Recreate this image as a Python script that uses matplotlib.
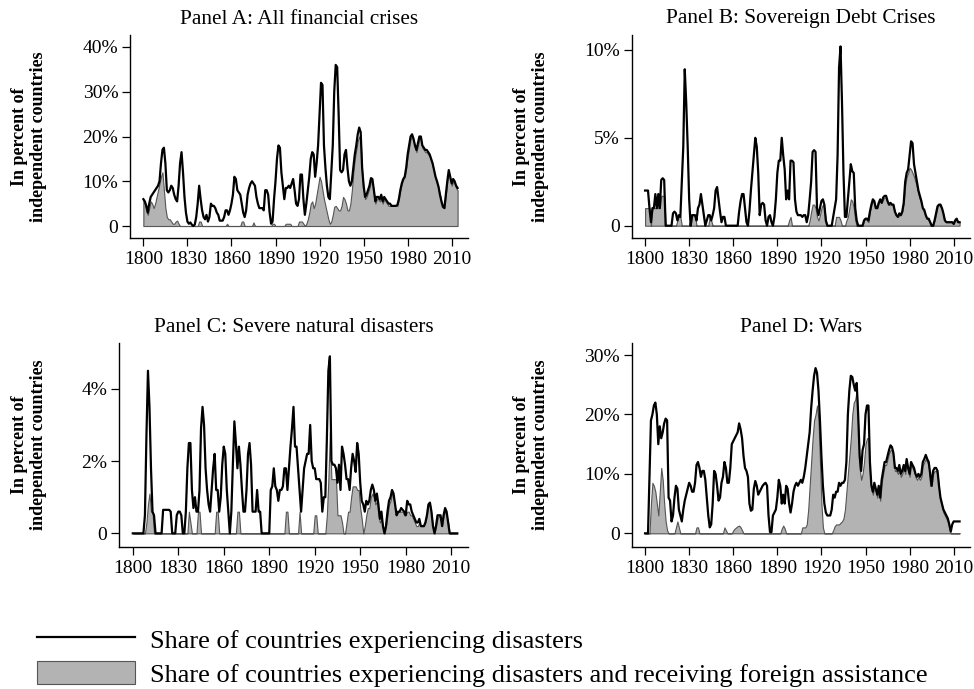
import numpy as np
import matplotlib
matplotlib.use("Agg")
import matplotlib.pyplot as plt
from matplotlib.lines import Line2D
from matplotlib.patches import Patch

plt.rcParams['font.family'] = 'Liberation Serif'

years = np.arange(1800, 2015)

# Panel A: all financial crises (percent of independent countries)
fin_all = [
    6, 5.5, 4.5, 3, 5, 6.5, 7, 7.5, 8, 8.5,
    9, 10, 14, 17, 17.5, 14, 8, 7.5, 8, 9,
    8.5, 7, 6, 5.5, 9, 14, 16.5, 12, 6.5, 3,
    1, 0.5, 0.8, 0.3, 0, 0.3, 2, 5, 9, 6,
    3.5, 2, 1.5, 2.5, 1, 2, 5, 4.5, 4.5, 4,
    3, 2.5, 1.2, 1.2, 1.2, 2, 3.5, 3.5, 2.5, 3.5,
    5, 7, 11, 10.5, 8, 7.5, 7, 5, 3, 2,
    3.5, 7, 8.5, 9.5, 10, 9.5, 9, 6.5, 5, 4,
    4, 4, 3.5, 8, 8, 7, 3, 0.5, 1, 6,
    10, 15, 18, 17.5, 12, 9, 6, 8.5, 8.5, 9,
    8.5, 9.5, 10.5, 8, 5, 4.5, 6, 11.5, 11.5, 6,
    2.5, 5, 8, 11, 15, 16.5, 16, 11, 14, 18,
    25, 32, 31.5, 18, 13, 9, 6.5, 6, 12, 18,
    30, 36, 35.5, 25, 12.5, 12, 12.5, 16, 17, 13,
    10, 9, 10, 13, 16, 18, 20.5, 22, 21, 13,
    9, 6.5, 7, 8, 9, 10.7, 10.5, 8, 5.5, 6.5,
    6.5, 6, 7, 5.5, 6.5, 6, 5.5, 5, 5, 4.5,
    4.5, 4.5, 4.5, 4.7, 6, 8, 9.5, 10.5, 11, 13,
    16, 18, 20, 20.5, 19.5, 18, 17, 18.5, 20, 20,
    18, 17.5, 17, 17, 16.5, 16, 15, 14, 12.5, 11,
    10, 8.8, 7, 5.5, 4.3, 4, 7, 10, 12.5, 11,
    9.5, 10.5, 10, 9, 8.5,
]
fin_aid = [
    6, 5, 3.5, 2.5, 4, 5.5, 5, 4, 5, 6.5,
    8, 9.5, 11, 12, 8, 4, 2, 1.5, 1.5, 1,
    0.5, 0.5, 1, 1.2, 0.5, 0, 0, 0, 0, 0,
    0, 0, 0, 0, 0, 0, 0, 0, 1, 1,
    0, 0, 0, 0, 0, 0, 0, 0, 0, 0,
    0, 0, 0, 0, 0, 0, 0, 0.5, 0, 0,
    0, 0, 0, 0, 0, 0, 0, 1, 1, 0,
    0, 0, 0, 0, 0, 0.8, 0, 0, 0, 0,
    0, 0, 0, 0, 0, 0, 0, 0, 0.5, 0.5,
    0, 0, 0, 0, 0, 0, 0, 0.5, 0.5, 0.5,
    0.5, 0, 0, 0, 0, 0, 1, 1, 1, 0.5,
    0, 0.5, 1.5, 3, 5, 5.5, 4, 5, 7, 9,
    11, 10, 8, 6, 4.5, 3, 1.5, 0.5, 1, 2.5,
    4.3, 4.5, 4, 3.5, 3.5, 4.5, 6.5, 6, 5, 3.5,
    3.5, 5, 8, 12, 15, 17, 19, 20, 19, 12,
    8.5, 6, 6.5, 7.5, 8.5, 10, 10, 7.5, 5, 6,
    6, 5.5, 6.5, 5, 6, 5.5, 5, 4.5, 4.5, 4.5,
    4.5, 4.5, 4.5, 4.5, 6, 8, 9.5, 10.5, 11, 13,
    15.5, 17.5, 19.5, 20, 19, 17.5, 16.5, 18, 19.5, 19.5,
    17.5, 17, 16.5, 16.5, 16, 15.5, 14.5, 13.5, 12, 10.5,
    9.5, 8.5, 7, 5.5, 4.3, 4, 7, 10, 12, 10.5,
    9, 10, 9.5, 8.5, 8,
]

# Panel B: sovereign debt crises
debt_all = [
    2, 2, 2, 1, 0.2, 1, 1, 1.8, 1, 1.8,
    1, 2.6, 2.7, 2.6, 0, 0, 0, 0, 0, 0.7,
    0.8, 0.7, 0.3, 0.6, 0.5, 2.5, 4.5, 8.9, 7, 4.5,
    1.5, 0, 0.6, 0.6, 0.6, 0.3, 1, 1.2, 1.8, 1.2,
    0.6, 0, 0.3, 0.6, 0.6, 0.3, 0.6, 1, 2, 2.2,
    1.5, 0.8, 0.2, 0.5, 0.5, 0, 0, 0, 0, 0,
    0, 0, 0, 0, 0.8, 1.4, 1.8, 1.8, 1, 0.2,
    0, 0.8, 2, 3, 4, 5, 4.5, 3, 0.6, 1.2,
    1.3, 1.2, 0.3, 0, 0.5, 0.6, 0.2, 0, 0.5, 1.5,
    3, 3.7, 3.7, 5, 4, 3.2, 1.5, 2, 1.5, 3.7,
    3.7, 3.6, 1.5, 0.8, 0.6, 0.6, 0.6, 0.5, 0.6, 0.6,
    0.2, 0.6, 1.5, 2.5, 4.2, 4.3, 4.2, 1, 0.6, 1,
    1.4, 1.5, 1.2, 0.3, 0, 0, 0, 0, 0.5, 1,
    1.5, 4, 9, 10.2, 7, 3, 0.5, 0.5, 1.5, 2.5,
    3.5, 3.1, 3, 1, 0.3, 0, 0, 0, 0, 0.3,
    0.4, 0.4, 0.3, 0.8, 1.2, 1.5, 1.4, 1, 1, 1.3,
    1.5, 1.3, 1.6, 1.7, 1.7, 1.4, 1.2, 1.3, 1.2, 1.2,
    0.8, 0.6, 0.5, 0.7, 0.6, 0.8, 1.3, 2.5, 3, 3.2,
    4, 4.8, 4.7, 3.5, 3, 2.5, 2, 1.7, 1.4, 1,
    0.9, 0.6, 0.4, 0.4, 0.2, 0, 0, 0.3, 0.7, 1.1,
    1.2, 1.2, 1, 0.7, 0.3, 0.2, 0.2, 0.2, 0.2, 0.2,
    0.1, 0.3, 0.4, 0.2, 0.2,
]
debt_aid = [
    1, 1, 1, 1, 0, 1, 1, 1, 1, 1,
    1, 1.7, 1.7, 1.7, 0, 0, 0, 0, 0, 0,
    0, 0, 0.3, 0.6, 0.5, 0, 0, 0, 0, 0,
    0, 0, 0.6, 0.6, 0.6, 0, 0, 0, 0, 0,
    0, 0, 0, 0, 0.5, 0.3, 0, 0, 0, 0,
    0, 0, 0, 0, 0, 0, 0, 0, 0, 0,
    0, 0, 0, 0, 0, 0, 0, 0, 0, 0,
    0, 0, 0, 0, 0, 0, 0, 0, 0, 0,
    0, 0, 0, 0, 0, 0, 0, 0, 0, 0,
    0, 0, 0, 0, 0, 0, 0, 0, 0.3, 0.5,
    0, 0, 0, 0, 0, 0, 0, 0, 0, 0,
    0, 0, 0.3, 0.8, 1.2, 1.2, 1, 0.5, 0.3, 0.6,
    1, 1.2, 1, 0.3, 0, 0, 0, 0, 0, 0,
    0.5, 0.5, 0.5, 0.3, 0, 0, 0, 0.3, 0.5, 1,
    1.5, 1.4, 1, 0.3, 0, 0, 0, 0, 0, 0.3,
    0.4, 0.3, 0.2, 0.8, 1.2, 1.4, 1.3, 1, 1, 1.3,
    1.4, 1.3, 1.5, 1.6, 1.6, 1.3, 1.2, 1.2, 1.2, 1.1,
    0.8, 0.6, 0.5, 0.6, 0.6, 0.8, 1.3, 2.3, 2.8, 3,
    3.3, 3.2, 3, 2.8, 2.5, 2.2, 1.8, 1.5, 1.3, 0.9,
    0.8, 0.5, 0.4, 0.3, 0.2, 0, 0, 0.3, 0.7, 1.1,
    1.2, 1.1, 1, 0.6, 0.3, 0.2, 0.2, 0.2, 0.2, 0.2,
    0.1, 0.3, 0.4, 0.2, 0.2,
]

# Panel C: severe natural disasters
nat_all = [
    0, 0, 0, 0, 0, 0, 0, 0, 0.5, 2.7,
    4.5, 3.5, 1.8, 0.6, 0.5, 0, 0, 0, 0, 0,
    0.65, 0.65, 0.65, 0.65, 0.65, 0.6, 0, 0, 0, 0.5,
    0.6, 0.6, 0.5, 0, 0, 0.6, 1.8, 2.5, 2.5, 1.2,
    0.7, 1, 0.6, 0.6, 1.2, 2.9, 3.5, 3, 1.8, 1.2,
    0.8, 0.6, 1.2, 1.8, 2.2, 1.2, 1.2, 0.6, 1, 1.9,
    2.4, 2.2, 1.2, 0.6, 0, 0.6, 1.9, 3.1, 2.5, 1.8,
    2.4, 1.9, 1.2, 0.6, 0.6, 1.2, 2.2, 2.5, 1.9, 0.6,
    0.6, 0.6, 1.2, 0.6, 0.6, 0, 0, 0, 0, 0,
    0, 1.2, 1.3, 1.8, 1.3, 1.2, 0.9, 1.2, 1.2, 1.3,
    1.8, 1.8, 1.2, 1.8, 2.4, 2.9, 3.5, 2.4, 2.4, 1.8,
    1.2, 0.6, 1.2, 1.8, 2, 2.2, 2.2, 3, 2, 1.8,
    1.8, 1.5, 1.5, 1.5, 1.4, 0.6, 1, 1, 2.6, 4.5,
    4.9, 2, 1.9, 1.9, 1.8, 1.4, 1.9, 1.2, 2.4, 2.2,
    1.9, 1.5, 1.5, 1.2, 1.8, 2.2, 2, 1.7, 2.5, 2.2,
    1.4, 0.9, 0.8, 0.6, 0.9, 0.8, 0.9, 1.2, 1.35, 1.2,
    0.9, 1.1, 0.8, 0.4, 0.6, 0.2, 0, 0.2, 0.6, 0.9,
    1, 1.2, 1.1, 0.8, 0.5, 0.6, 0.6, 0.7, 0.65, 0.6,
    0.5, 0.9, 0.8, 0.8, 0.6, 0.5, 0.4, 0.3, 0.3, 0.4,
    0.2, 0.2, 0.2, 0.3, 0.5, 0.8, 0.85, 0.6, 0.2, 0,
    0.2, 0.5, 0.5, 0.5, 0.2, 0.5, 0.7, 0.6, 0.3, 0,
    0, 0, 0, 0, 0,
]
nat_aid = [
    0, 0, 0, 0, 0, 0, 0, 0, 0, 0.3,
    0.8, 1.1, 0.6, 0.6, 0, 0, 0, 0, 0, 0,
    0, 0, 0, 0, 0, 0, 0, 0, 0, 0,
    0, 0, 0, 0, 0, 0, 0, 0.6, 0.3, 0,
    0, 0, 0, 0.6, 0.6, 0, 0, 0, 0, 0,
    0, 0, 0, 0, 0, 0.6, 0.6, 0, 0, 0,
    0, 0, 0, 0, 0, 0, 0, 0, 0, 0.6,
    0.6, 0, 0, 0, 0, 0, 0, 0, 0, 0,
    0, 0, 0, 0, 0, 0, 0, 0, 0, 0,
    0, 0, 0, 0, 0, 0, 0, 0, 0, 0,
    0, 0.6, 0.6, 0, 0, 0, 0, 0, 0, 0,
    0.6, 0, 0, 0, 0, 0, 0, 0, 0, 0,
    0.5, 0.5, 0, 0, 0, 0, 0, 0, 0.5, 1.5,
    2.8, 1.5, 1.5, 1.5, 1.5, 0.5, 0.5, 0.5, 0.3, 0,
    0, 0.3, 0.6, 0.6, 1, 1.3, 1.3, 1.3, 1.2, 1.2,
    0.7, 0.4, 0, 0.2, 0.5, 0.7, 0.7, 1, 1.1, 1,
    0.8, 0.9, 0.5, 0.3, 0.4, 0.2, 0, 0.2, 0.5, 0.8,
    0.9, 1.1, 1, 0.7, 0.5, 0.6, 0.6, 0.6, 0.6, 0.5,
    0.5, 0.6, 0.6, 0.5, 0.5, 0.4, 0.3, 0.2, 0.2, 0.3,
    0.2, 0.2, 0.2, 0.3, 0.5, 0.8, 0.8, 0.5, 0.2, 0,
    0.2, 0.4, 0.5, 0.4, 0.2, 0.5, 0.6, 0.5, 0.3, 0,
    0, 0, 0, 0, 0,
]

# Panel D: wars
war_all = [
    0, 0, 0, 9.5, 19, 20, 21.5, 22, 20, 15,
    18, 16, 17, 18.5, 19.3, 19, 6, 5.5, 2, 3,
    6, 8, 7.5, 4, 3, 2, 4, 5.5, 6.5, 7.5,
    8.5, 8, 7, 7, 8.5, 11.5, 12, 11, 9.5, 10.5,
    10.5, 9, 6, 3, 1, 1.5, 5, 10.5, 10, 8,
    5.5, 6, 8.5, 9.5, 12, 11, 8.5, 8.5, 11, 15,
    15.5, 16, 16.5, 17, 18.5, 17.5, 16, 13, 11, 10.5,
    9.5, 5, 3.8, 4, 7.5, 8.8, 8, 6.5, 7, 7.5,
    8, 8.3, 8.5, 8, 3, 0.2, 0.2, 3, 3.5, 4,
    6, 9, 8, 5, 6.5, 5, 8, 7.5, 5, 3.5,
    5, 7, 8, 8.5, 8, 8.5, 9, 8.5, 9.5, 11,
    13, 15, 17, 21, 24, 26.5, 27.8, 27, 24, 19,
    13, 8, 5, 3.5, 3, 3, 3, 4, 6.5, 6,
    7, 7, 8.5, 8, 8.5, 8.5, 9, 12, 20, 24,
    26.5, 26.3, 25, 24, 25.3, 20, 13, 10.5, 14, 15,
    20, 21.5, 21.5, 12, 8, 7, 8.5, 7.5, 6.5, 8,
    6, 9, 10.5, 12, 12, 13, 14, 14.8, 14.5, 13.5,
    11, 11, 10.5, 11.5, 10, 10.5, 11.5, 10.5, 12.5, 11,
    10, 12, 11.5, 11, 10, 9.5, 10, 9.5, 10, 12,
    12.5, 13.2, 12.5, 12, 10, 8, 10.5, 11, 11, 10.5,
    8, 6, 5, 4, 3.5, 3, 2.5, 1.5, 0.3, 1.5,
    2, 2, 2, 2, 2,
]
war_aid = [
    0, 0, 0, 0, 5, 8.5, 8, 7, 5, 3,
    7, 11, 9, 5, 2, 0.5, 0, 0, 0, 0,
    0, 1, 2, 1, 0, 0, 0, 0, 0, 0,
    0, 0, 0, 0, 0, 1, 1, 0, 0, 0,
    0, 0, 0, 0, 0, 0, 0, 0, 0, 0,
    0, 0, 0, 0, 1, 0.5, 0, 0, 0, 0,
    0.5, 0.8, 1, 1.2, 1.3, 1, 0.5, 0, 0, 0,
    0, 0, 0, 0, 0, 0, 0, 0, 0, 0,
    0, 0, 0, 0, 0, 0, 0, 0, 0, 0,
    0, 0, 0, 0.8, 1.3, 0.8, 0, 0, 0, 0,
    0, 0, 0, 0, 0, 0, 0, 1, 1, 1,
    1.5, 4, 8, 12, 16, 19, 20, 21.5, 19, 12,
    5, 1, 0, 0, 0, 0, 0, 0, 0.5, 1.2,
    1.5, 1.5, 1.5, 1.8, 2, 2.5, 4, 7, 10, 13,
    16, 20, 22, 22.5, 24, 18, 11, 9, 10, 12,
    15, 16, 16, 10, 7.5, 6.5, 8, 7, 6, 7.5,
    5.5, 8.5, 10, 11.5, 11.5, 12.5, 13.5, 14, 14, 13,
    10.5, 10.5, 10, 11, 9.5, 10, 11, 10, 12, 10.5,
    9.5, 11.5, 11, 10.5, 9.5, 9, 9.5, 9, 9.5, 11.5,
    12, 12.5, 12, 11.5, 8, 8, 10, 10.5, 10.5, 10,
    7.5, 5.5, 4.5, 3.5, 3, 2.5, 2, 1, 0, 0,
    0, 0, 0, 0, 0,
]

W, H = 974, 689
fig = plt.figure(figsize=(W / 100, H / 100), dpi=100)

xticks = [1800, 1830, 1860, 1890, 1920, 1950, 1980, 2010]


def panel(box, title, total, aided, yticks, ylabels, ylim, ylab_x):
    l, t, r, b = box
    ax = fig.add_axes([l / W, 1 - b / H, (r - l) / W, (b - t) / H])
    ax.fill_between(years, 0, aided, facecolor='#b3b3b3', edgecolor='#555555',
                    linewidth=0.8, zorder=2)
    ax.plot(years, total, color='black', linewidth=1.6, zorder=3)
    ax.set_xlim(1790.9, 2021.1)
    ax.set_ylim(*ylim)
    ax.set_xticks(xticks)
    ax.set_yticks(yticks)
    ax.set_yticklabels(ylabels)
    ax.spines['top'].set_visible(False)
    ax.spines['right'].set_visible(False)
    for s in ('left', 'bottom'):
        ax.spines[s].set_linewidth(1.0)
    ax.tick_params(direction='out', length=5.5, width=0.9, labelsize=14, pad=3)
    ax.tick_params(axis='x', pad=4)
    fig.text((l + r) / 2 / W, 1 - (t - 16) / H, title, ha='center', va='center',
             fontsize=15.3)
    fig.text(ylab_x / W, 1 - (t + b) / 2 / H, 'In percent of\nindependent countries',
             rotation=90, ha='center', va='center', multialignment='center',
             fontsize=13, fontweight='bold', linespacing=1.15)
    return ax


panel((130, 35, 468, 238), 'Panel A: All financial crises', fin_all, fin_aid,
      [0, 10, 20, 30, 40], ['0', '10%', '20%', '30%', '40%'], (-2.68, 42.68), 29)
panel((631.7, 35, 970, 238), 'Panel B: Sovereign Debt Crises', debt_all, debt_aid,
      [0, 5, 10], ['0', '5%', '10%'], (-0.70, 10.85), 531)
panel((119, 343.3, 468, 546.7), 'Panel C: Severe natural disasters', nat_all, nat_aid,
      [0, 2, 4], ['0', '2%', '4%'], (-0.37, 5.26), 29)
panel((631.7, 343.3, 970, 546.7), 'Panel D: Wars', war_all, war_aid,
      [0, 10, 20, 30], ['0', '10%', '20%', '30%'], (-2.25, 31.97), 531)

handles = [Line2D([], [], color='black', linewidth=1.6),
           Patch(facecolor='#b3b3b3', edgecolor='#555555', linewidth=0.8)]
labels = ['Share of countries experiencing disasters',
          'Share of countries experiencing disasters and receiving foreign assistance']
fig.legend(handles, labels, loc='upper left', bbox_to_anchor=(37 / W, 1 - 627 / H),
           frameon=False, fontsize=19, handlelength=3.7, handleheight=1.0,
           handletextpad=0.6, borderpad=0, borderaxespad=0, labelspacing=0.3)

fig.savefig('out.png', dpi=100)
